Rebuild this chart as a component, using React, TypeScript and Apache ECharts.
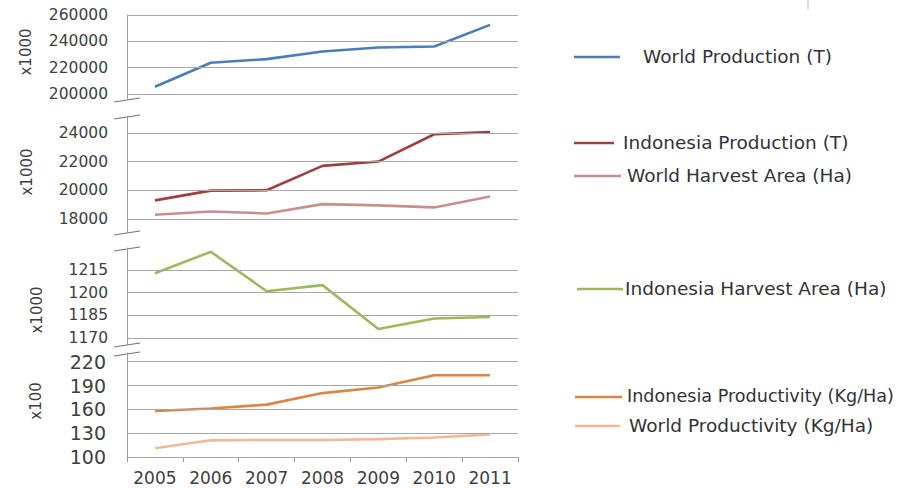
import React, { useEffect, useRef } from "react";
import * as echarts from "echarts";

const years = ["2005", "2006", "2007", "2008", "2009", "2010", "2011"];
const worldProduction = [205300, 223600, 226400, 232200, 235200, 236000, 252500];
const indonesiaProduction = [19300, 19980, 20000, 21700, 22000, 23900, 24050];
const worldHarvestArea = [18300, 18530, 18390, 19040, 18950, 18810, 19570];
const indonesiaHarvestArea = [1212.8, 1227, 1201, 1205, 1176, 1183, 1184];
const indonesiaProductivity = [158, 161, 166, 180.5, 187.5, 203, 203];
const worldProductivity = [111, 121, 121.5, 121.5, 122.5, 124.5, 128.5];

const ticks1 = [200000, 220000, 240000, 260000];
const ticks2 = [18000, 20000, 22000, 24000];
const ticks3 = [1170, 1185, 1200, 1215];
const ticks4 = [100, 130, 160, 190, 220];

const FONT = "DejaVu Sans";
const TEXT = "#404040";
const GRIDLINE = "#a8a8a8";
const AXIS = "#9a9a9a";

const C_WP = "#4a7ebb";
const C_IP = "#a0403d";
const C_WHA = "#c98f8e";
const C_IHA = "#9bbb59";
const C_IPR = "#dd8440";
const C_WPR = "#f5b892";

export default function App() {
  const ref = useRef<HTMLDivElement>(null);
  useEffect(() => {
    if (!ref.current) return;
    const chart = echarts.init(ref.current, null, { renderer: "svg" });

    const grids = [
      { left: 127, right: 384, top: 15, height: 84 },
      { left: 127, right: 384, top: 117, height: 115 },
      { left: 127, right: 384, top: 248, height: 97 },
      { left: 127, right: 384, top: 353, height: 104 },
    ];
    const ranges = [
      [196000, 260000, ticks1, 15.5, 19],
      [17100, 25100, ticks2, 15.5, 19],
      [1165.5, 1229.5, ticks3, 15.5, 19],
      [100, 231, ticks4, 19, 21],
    ] as const;

    const yAxis = ranges.map((r, i) => ({
      type: "value",
      gridIndex: i,
      min: r[0],
      max: r[1],
      axisLine: { show: true, lineStyle: { color: AXIS, width: 1 } },
      axisTick: { show: false },
      splitLine: { show: false },
      axisLabel: {
        customValues: r[2] as unknown as number[],
        formatter: (v: number) => String(v),
        color: TEXT,
        fontFamily: FONT,
        fontSize: r[3],
        margin: r[4],
      },
    }));

    const xAxis = grids.map((_, i) => ({
      type: "category",
      gridIndex: i,
      data: years,
      boundaryGap: true,
      show: i === 3,
      axisLine: { show: true, lineStyle: { color: AXIS, width: 1 } },
      axisTick: { show: true, length: 5, lineStyle: { color: AXIS } },
      axisLabel: {
        interval: 0,
        hideOverlap: false,
        color: TEXT,
        fontFamily: FONT,
        fontSize: 17,
        margin: 12,
      },
      splitLine: { show: false },
    }));

    const gridSeries = ranges.map((r, i) => ({
      type: "line",
      name: "grid" + i,
      xAxisIndex: i,
      yAxisIndex: i,
      data: [],
      z: 1,
      silent: true,
      markLine: {
        silent: true,
        symbol: ["none", "none"],
        label: { show: false },
        lineStyle: { color: GRIDLINE, width: 1, type: "solid" },
        emphasis: { disabled: true },
        data: (r[2] as unknown as number[]).map((v) => ({ yAxis: v })),
      },
    }));

    const mk = (name: string, data: number[], idx: number, color: string) => ({
      type: "line",
      name,
      xAxisIndex: idx,
      yAxisIndex: idx,
      data,
      z: 3,
      symbol: "none",
      lineStyle: { color, width: 2.6 },
      itemStyle: { color },
    });

    const series = [
      ...gridSeries,
      mk("World Production (T)", worldProduction, 0, C_WP),
      mk("Indonesia Production (T)", indonesiaProduction, 1, C_IP),
      mk("World Harvest Area (Ha)", worldHarvestArea, 1, C_WHA),
      mk("Indonesia Harvest Area (Ha)", indonesiaHarvestArea, 2, C_IHA),
      mk("Indonesia Productivity (Kg/Ha)", indonesiaProductivity, 3, C_IPR),
      mk("World Productivity (Kg/Ha)", worldProductivity, 3, C_WPR),
    ];

    const legendItems = [
      { name: "World Production (T)", color: C_WP, y: 57, x1: 574, x2: 620, tx: 643, fs: 18.5 },
      { name: "Indonesia Production (T)", color: C_IP, y: 143, x1: 574, x2: 614, tx: 623, fs: 18.5 },
      { name: "World Harvest Area (Ha)", color: C_WHA, y: 176, x1: 574, x2: 621, tx: 627, fs: 18.5 },
      { name: "Indonesia Harvest Area (Ha)", color: C_IHA, y: 289, x1: 577, x2: 623, tx: 625, fs: 18.5 },
      { name: "Indonesia Productivity (Kg/Ha)", color: C_IPR, y: 397, x1: 575, x2: 622, tx: 627, fs: 17.6 },
      { name: "World Productivity (Kg/Ha)", color: C_WPR, y: 426, x1: 575, x2: 620, tx: 629, fs: 18.5 },
    ];

    const graphic: any[] = [];
    legendItems.forEach((it) => {
      graphic.push({
        type: "line",
        shape: { x1: it.x1, y1: it.y, x2: it.x2, y2: it.y },
        style: { stroke: it.color, lineWidth: 2.6 },
        silent: true,
      });
      graphic.push({
        type: "text",
        x: it.tx,
        y: it.y - 1,
        style: {
          text: it.name,
          fill: "#333333",
          font: `${it.fs}px '${FONT}'`,
          textVerticalAlign: "middle",
          textAlign: "left",
        },
        silent: true,
      });
    });

    const axisNames = [
      { text: "x1000", x: 26, y: 52 },
      { text: "x1000", x: 27, y: 172 },
      { text: "x1000", x: 37, y: 310 },
      { text: "x100", x: 36, y: 401 },
    ];
    axisNames.forEach((a) => {
      graphic.push({
        type: "text",
        x: a.x,
        y: a.y,
        rotation: Math.PI / 2,
        style: {
          text: a.text,
          fill: TEXT,
          font: `15px '${FONT}'`,
          textAlign: "center",
          textVerticalAlign: "middle",
        },
        silent: true,
      });
    });

    // axis break marks
    const breaks = [100, 117, 233, 249, 345, 354];
    breaks.forEach((by) => {
      graphic.push({
        type: "line",
        shape: { x1: 114, y1: by + 2, x2: 140, y2: by - 2 },
        style: { stroke: "#707070", lineWidth: 1 },
        silent: true,
      });
    });

    graphic.push({
      type: "line",
      shape: { x1: 808, y1: 0, x2: 808, y2: 10 },
      style: { stroke: "#bbbbbb", lineWidth: 1 },
      silent: true,
    });

    chart.setOption({
      animation: false,
      backgroundColor: "#ffffff",
      grid: grids,
      xAxis,
      yAxis,
      series,
      graphic,
    });

    return () => chart.dispose();
  }, []);

  return (
    <div
      ref={ref}
      style={{ position: "fixed", left: 0, top: 0, width: 902, height: 488 }}
    />
  );
}
